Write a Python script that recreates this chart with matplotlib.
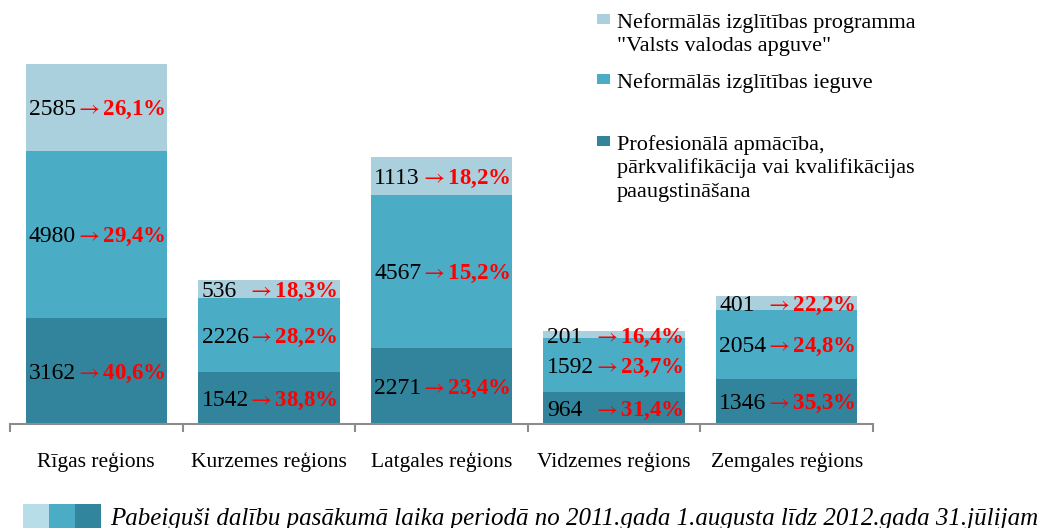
import matplotlib
matplotlib.use("Agg")
import matplotlib.pyplot as plt
from matplotlib.patches import Rectangle
import numpy as np

# ---- data ----
regions = ["Rīgas reģions", "Kurzemes reģions", "Latgales reģions",
           "Vidzemes reģions", "Zemgales reģions"]
series_names = [
    "Profesionālā apmācība,\npārkvalifikācija vai kvalifikācijas\npaaugstināšana",
    "Neformālās izglītības ieguve",
    "Neformālās izglītības programma\n\"Valsts valodas apguve\"",
]
profesionala = [3162, 1542, 2271, 964, 1346]
neformala = [4980, 2226, 4567, 1592, 2054]
valsts_valoda = [2585, 536, 1113, 201, 401]
pct_profesionala = ["40,6%", "38,8%", "23,4%", "31,4%", "35,3%"]
pct_neformala = ["29,4%", "28,2%", "15,2%", "23,7%", "24,8%"]
pct_valsts_valoda = ["26,1%", "18,3%", "18,2%", "16,4%", "22,2%"]
footnote = "Pabeiguši dalību pasākumā laika periodā no 2011.gada 1.augusta līdz 2012.gada 31.jūlijam"

colors = ["#31849B", "#4BACC6", "#AACFDD"]
foot_colors = ["#B7DDE8", "#4BACC6", "#31859C"]

W, H = 1050, 528
SERIF = ["Liberation Serif", "DejaVu Serif"]
plt.rcParams["mathtext.fontset"] = "stix"

fig = plt.figure(figsize=(W / 100, H / 100), dpi=100)
ax = fig.add_axes([10 / W, 104 / H, 863 / W, 360 / H])

x = np.arange(len(regions))
series = [profesionala, neformala, valsts_valoda]
pcts = [pct_profesionala, pct_neformala, pct_valsts_valoda]
bottom = np.zeros(len(regions))
bw = 0.82
for vals, pcl, col in zip(series, pcts, colors):
    vals = np.array(vals, dtype=float)
    ax.bar(x, vals, bottom=bottom, width=bw, color=col, edgecolor="none")
    for i in range(len(x)):
        yc = bottom[i] + vals[i] / 2
        ax.text(x[i] - bw / 2 + 0.02, yc, f"{int(vals[i])}", ha="left",
                va="center_baseline", fontsize=17, family=SERIF, color="black")
        ax.text(x[i] + bw / 2 - 0.01, yc, r"$\rightarrow$" + pcl[i],
                ha="right", va="center_baseline",
                fontsize=16.5, family=SERIF, color="#FF0000", fontweight="bold")
    bottom += vals

ax.set_xlim(-0.5, len(regions) - 0.5)
ax.set_ylim(0, bottom.max())
for s in ["top", "right", "left"]:
    ax.spines[s].set_visible(False)
ax.spines["bottom"].set_color("#8C8C8C")
ax.spines["bottom"].set_linewidth(1.5)
ax.set_yticks([])
ax.set_xticks(x)
ax.set_xticklabels(regions, family=SERIF, fontsize=15.5)
ax.tick_params(axis="x", which="major", length=0, pad=20)
ax.set_xticks(np.arange(-0.5, len(regions), 1.0), minor=True)
ax.tick_params(axis="x", which="minor", length=6, width=1.5, color="#8C8C8C", direction="out")

# ---- legend (manual, right top) ----
leg_order = [2, 1, 0]
line_y0 = [23, 83, 145]
line_step = 23.5
for k, idx in enumerate(leg_order):
    lines = series_names[idx].split("\n")
    yc = line_y0[k]
    fig.patches.append(Rectangle((597 / W, 1 - (yc + 1) / H), 13 / W, 10 / H,
                                 transform=fig.transFigure, color=colors[idx], lw=0))
    for j, ln in enumerate(lines):
        fig.text(617 / W, 1 - (yc + j * line_step) / H, ln, ha="left", va="center",
                 fontsize=16, family=SERIF, color="black")

# ---- footnote ----
for k, c in enumerate(foot_colors):
    fig.patches.append(Rectangle(((23 + k * 26) / W, 0), 26 / W, 24 / H,
                                 transform=fig.transFigure, color=c, lw=0))
fig.text(110 / W, 9 / H, footnote, ha="left", va="center", fontsize=18,
         family=SERIF, style="italic", color="black")

fig.savefig("out.png", dpi=100)
